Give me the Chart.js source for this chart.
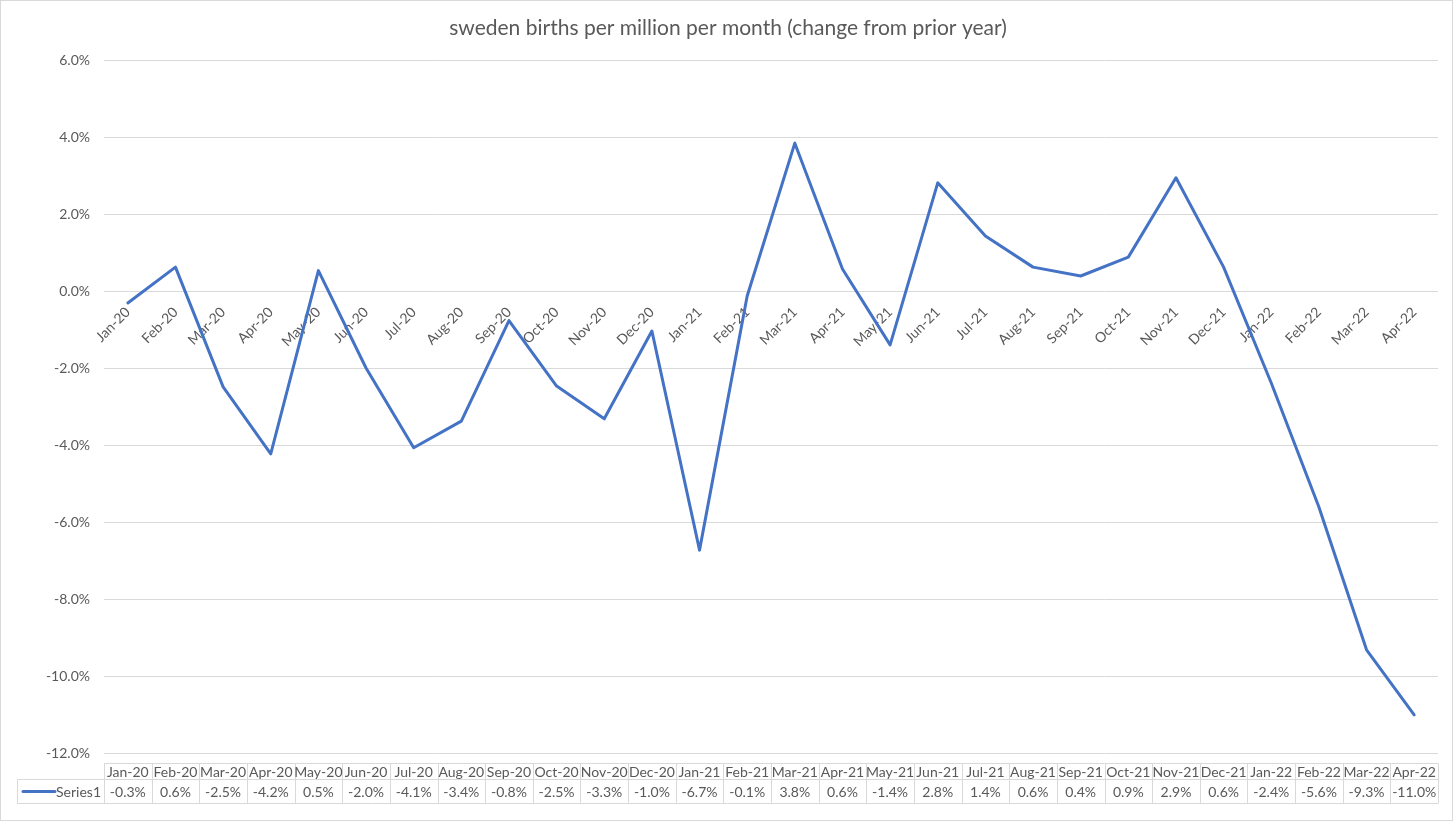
<!DOCTYPE html>
<html>
<head>
<meta charset="utf-8">
<script src="https://cdn.jsdelivr.net/npm/chart.js@4"></script>
<style>
  body { margin: 0; background: #fff; }
  canvas { display: block; }
</style>
</head>
<body>
<canvas id="chart" width="1456" height="822"></canvas>
<script>
// months shown on the axis and in the data table
var months = ['Jan-20', 'Feb-20', 'Mar-20', 'Apr-20', 'May-20', 'Jun-20', 'Jul-20', 'Aug-20',
  'Sep-20', 'Oct-20', 'Nov-20', 'Dec-20', 'Jan-21', 'Feb-21', 'Mar-21', 'Apr-21', 'May-21',
  'Jun-21', 'Jul-21', 'Aug-21', 'Sep-21', 'Oct-21', 'Nov-21', 'Dec-21', 'Jan-22', 'Feb-22',
  'Mar-22', 'Apr-22'];
// change from prior year, in percent
var series1 = [-0.31, 0.62, -2.49, -4.23, 0.53, -2.0, -4.07, -3.38, -0.77, -2.47, -3.32, -1.04,
  -6.73, -0.13, 3.84, 0.57, -1.40, 2.81, 1.43, 0.62, 0.39, 0.88, 2.94, 0.62, -2.39, -5.61,
  -9.32, -11.01];
var seriesName = 'Series1';
var titleText = 'sweden births per million per month (change from prior year)';

var FONT = 'Lato, "Open Sans", sans-serif';
var TEXT = '#595959';
var GRID = '#d9d9d9';
var BLUE = '#4472C4';

function pct(v) { return v.toFixed(1) + '%'; }

// draws the Excel style data table under the plot plus the outer chart border
var dataTable = {
  id: 'dataTable',
  afterDraw: function(chart) {
    var ctx = chart.ctx;
    var x = chart.scales.x;
    var area = chart.chartArea;
    var colW = (area.right - area.left) / months.length;
    var top = 763.5, mid = 779.5, bot = 803.5, legL = 17.5;
    ctx.save();
    ctx.strokeStyle = GRID;
    ctx.lineWidth = 1;
    ctx.beginPath();
    // horizontal lines
    ctx.moveTo(area.left, top); ctx.lineTo(area.right, top);
    ctx.moveTo(legL, mid); ctx.lineTo(area.right, mid);
    ctx.moveTo(legL, bot); ctx.lineTo(area.right, bot);
    // vertical lines
    ctx.moveTo(legL, mid); ctx.lineTo(legL, bot);
    for (var i = 0; i <= months.length; i++) {
      var cx = Math.round(area.left + i * colW) + 0.5;
      ctx.moveTo(cx, top); ctx.lineTo(cx, bot);
    }
    ctx.stroke();

    ctx.fillStyle = TEXT;
    ctx.font = '14px ' + FONT;
    ctx.textAlign = 'center';
    ctx.textBaseline = 'middle';
    months.forEach(function(m, i) {
      var px = x.getPixelForValue(i);
      ctx.fillText(m, px, (top + mid) / 2 + 1);
      ctx.fillText(pct(series1[i]), px, (mid + bot) / 2 + 1);
    });

    // legend key
    ctx.strokeStyle = BLUE;
    ctx.lineWidth = 3;
    ctx.lineCap = 'round';
    ctx.beginPath();
    ctx.moveTo(23, 791.5); ctx.lineTo(55, 791.5);
    ctx.stroke();
    ctx.textAlign = 'right';
    ctx.fillText(seriesName, 101, 792.5);

    // chart outer border
    ctx.strokeStyle = GRID;
    ctx.lineWidth = 1;
    ctx.lineCap = 'butt';
    ctx.strokeRect(0.5, 0.5, 1452, 820);
    ctx.restore();
  }
};

var config = {
  type: 'line',
  data: {
    labels: months,
    datasets: [{
      label: seriesName,
      data: series1,
      borderColor: BLUE,
      borderWidth: 3,
      pointRadius: 0,
      tension: 0,
      borderJoinStyle: 'round',
      borderCapStyle: 'round'
    }]
  },
  options: {
    responsive: false,
    animation: false,
    devicePixelRatio: 1,
    layout: { padding: { left: 18, right: 18, top: 0, bottom: 69 } },
    plugins: {
      legend: { display: false },
      tooltip: { enabled: false },
      title: {
        display: true,
        text: titleText,
        color: TEXT,
        font: { family: FONT, size: 21, weight: 'normal' },
        padding: { top: 16, bottom: 18.8 }
      }
    },
    scales: {
      x: {
        type: 'category',
        position: { y: 0 },
        offset: true,
        grid: { display: false },
        border: { display: false },
        ticks: {
          autoSkip: false,
          minRotation: 45,
          maxRotation: 45,
          padding: 5,
          color: TEXT,
          font: { family: FONT, size: 14 }
        }
      },
      y: {
        min: -12,
        max: 6,
        afterFit: function(scale) { scale.width = 86; },
        grid: { color: GRID, drawTicks: false },
        border: { display: false },
        ticks: {
          stepSize: 2,
          padding: 14,
          color: TEXT,
          font: { family: FONT, size: 14 },
          callback: function(v) { return pct(v); }
        }
      }
    }
  },
  plugins: [dataTable]
};

window.onload = function() {
  var ctx = document.getElementById('chart').getContext('2d');
  window.myChart = new Chart(ctx, config);
};
</script>
</body>
</html>
